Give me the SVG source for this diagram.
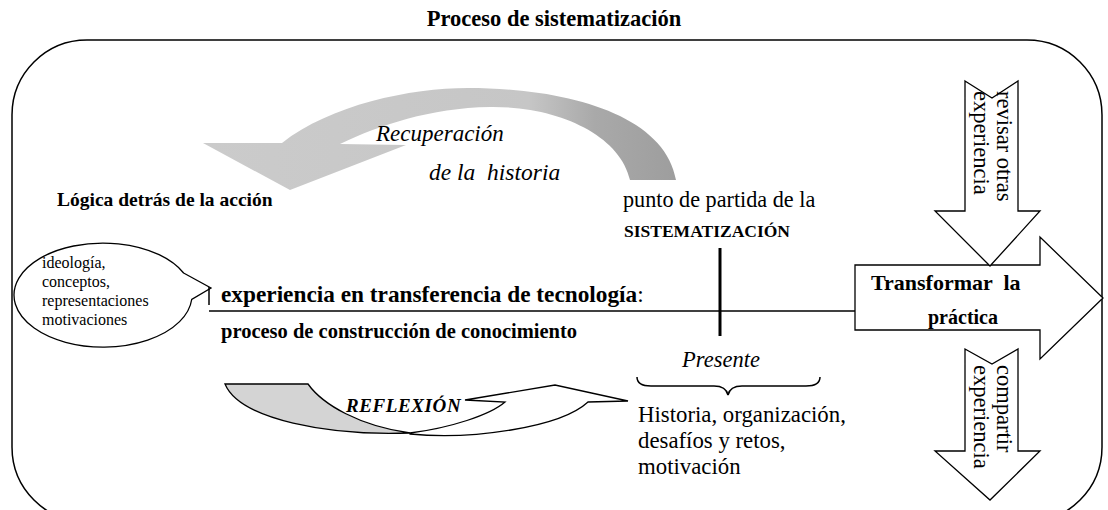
<svg xmlns="http://www.w3.org/2000/svg" width="1108" height="510" viewBox="0 0 1108 510">
<defs>
<style>
text{font-family:"Liberation Serif","Times New Roman",serif;fill:#000}
.b{font-weight:bold}
.i{font-style:italic}
.shape{fill:#fff;stroke:#000;stroke-width:1.3}
.ln{stroke:#000;stroke-width:1.5;fill:none}
</style>
<linearGradient id="gRec" gradientUnits="userSpaceOnUse" x1="207" y1="0" x2="680" y2="0">
<stop offset="0" stop-color="#cbcbcb"/>
<stop offset="0.68" stop-color="#c6c6c6"/>
<stop offset="0.82" stop-color="#a9a9a9"/>
<stop offset="1" stop-color="#9d9d9d"/>
</linearGradient>
</defs>
<rect width="1108" height="510" fill="#fff"/>
<g id="title"><text class="b" x="554" y="26" font-size="22.5" text-anchor="middle">Proceso de sistematización</text></g>
<g id="frame"><rect x="12" y="40" width="1090" height="482" rx="75" ry="75" fill="none" stroke="#000" stroke-width="1.5"/></g>
<g id="recuperacion">
<path d="M203,143 L282,143 C330,105 410,88 468,88 C568,88 665,115 676,180 L630,180 C620,135 558,106 490,107 C430,108 380,125 340,144 L406,145 L290,190 Z" fill="url(#gRec)"/>
<text class="i" x="376" y="141" font-size="23">Recuperación</text>
<text class="i" x="429" y="180" font-size="23.5" xml:space="preserve">de la  historia</text>
</g>
<g id="logica"><text class="b" x="57" y="206" font-size="19.5">Lógica detrás de la acción</text></g>
<g id="bubble">
<path class="shape" d="M183.6,273 L211,288 L191.7,299.5 A89,52 0 1,1 183.6,273 Z"/>
<text x="42" y="268" font-size="16">ideología,</text>
<text x="42" y="287" font-size="16">conceptos,</text>
<text x="42" y="306" font-size="16">representaciones</text>
<text x="42" y="325" font-size="16">motivaciones</text>
</g>
<g id="connectors">
<line class="ln" x1="209" y1="311" x2="855" y2="311"/>
<line class="ln" x1="209" y1="287" x2="209" y2="305"/>
<line x1="720" y1="248" x2="720" y2="336" stroke="#000" stroke-width="3"/>
</g>
<g id="experiencia">
<text x="221" y="302" font-size="23.3"><tspan class="b">experiencia en transferencia de tecnología</tspan>:</text>
<text class="b" x="221" y="338" font-size="20.5">proceso de construcción de conocimiento</text>
</g>
<g id="punto">
<text x="623" y="207" font-size="22.2">punto de partida de la</text>
<text class="b" x="624" y="237" font-size="17.5">SISTEMATIZACIÓN</text>
</g>
<g id="transformar">
<polygon class="shape" points="855,265 1040,265 1040,237 1103,298 1040,359 1040,330 855,330"/>
<text class="b" x="871" y="290" font-size="22" xml:space="preserve">Transformar  la</text>
<text class="b" x="928" y="324" font-size="20">práctica</text>
</g>
<g id="revisar">
<polygon class="shape" points="965,81 992,98 1018,81 1018,211 1040,211 990,266 935,211 965,211"/>
<text font-size="22.5" transform="translate(997,91) rotate(90)">revisar otras</text>
<text font-size="22.5" transform="translate(974,91) rotate(90)">experiencia</text>
</g>
<g id="compartir">
<polygon class="shape" points="965,349 992,364 1018,349 1018,451 1040,451 990,500 935,451 965,451"/>
<text font-size="22.5" transform="translate(997,365) rotate(90)">compartir</text>
<text font-size="22.5" transform="translate(974,365) rotate(90)">experiencia</text>
</g>
<g id="presente">
<text class="i" x="721" y="367" font-size="22.5" text-anchor="middle">Presente</text>
<path class="ln" stroke-width="1.2" d="M637,377 Q637,386 651,386 L714,386 Q726,386 728,395 Q730,386 742,386 L806,386 Q820,386 820,377"/>
</g>
<g id="historia">
<text x="638" y="422" font-size="22.8">Historia, organización,</text>
<text x="638" y="448" font-size="22.8">desafíos y retos,</text>
<text x="638" y="474" font-size="22.8">motivación</text>
</g>
<g id="reflexion">
<path d="M225,384 L308,384 C323,405 360,426 410,433 C330,436 240,420 225,384 Z" fill="#d4d4d4" stroke="#000" stroke-width="1.3"/>
<path class="shape" d="M410,433 C450,428 490,415 505,402 L465,400 L555,385 L628,401 L588,402 C560,428 470,440 410,434 Z"/>
<text class="b i" x="346" y="412" font-size="19" letter-spacing="0.6">REFLEXIÓN</text>
</g>
</svg>
